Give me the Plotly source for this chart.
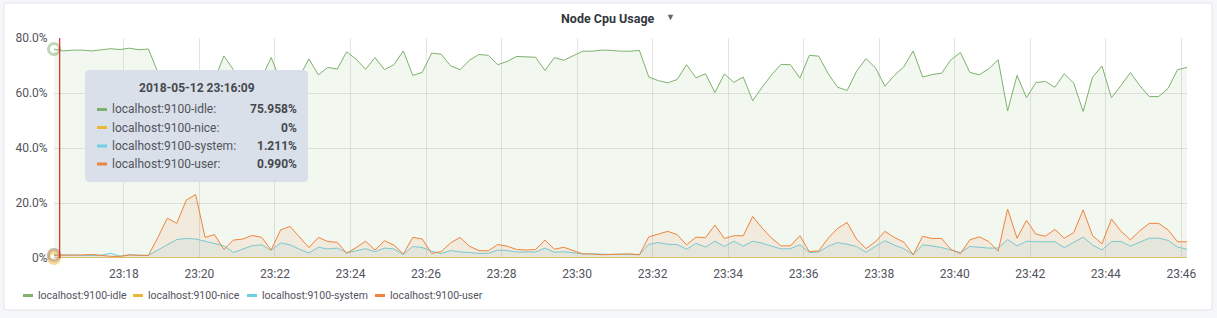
import pandas as pd
import plotly.graph_objects as go

# ---------------- data ----------------
start_time = "2018-05-12 23:16:09"
step_seconds = 15

series_names = ["localhost:9100-idle", "localhost:9100-nice",
                "localhost:9100-system", "localhost:9100-user"]
series_colors = ["#7EB26D", "#EAB839", "#6ED0E0", "#EF843C"]

idle = [75.958, 75.3, 75.6, 75.6, 75.3, 75.7, 76.1, 75.8, 76.3, 75.7,
        76.0, 67.5, 62.0, 60.0, 55.0, 53.0, 62.0, 65.0, 73.4, 68.5,
        64.0, 62.0, 65.6, 72.9, 64.3, 62.0, 66.0, 72.4, 66.6, 69.3,
        68.7, 75.0, 72.3, 68.6, 72.9, 68.5, 70.3, 75.3, 66.4, 67.5,
        74.5, 74.1, 69.9, 68.5, 71.9, 74.0, 73.7, 70.3, 71.5, 73.3,
        73.1, 73.0, 68.2, 72.9, 71.9, 73.7, 75.2, 75.2, 75.6, 75.5,
        75.2, 75.2, 75.5, 65.8, 64.5, 63.7, 64.9, 70.3, 65.5, 67.0,
        60.2, 66.9, 63.9, 65.8, 57.2, 62.1, 66.6, 70.4, 70.3, 65.4,
        73.7, 73.4, 67.0, 62.1, 60.9, 67.9, 72.5, 69.2, 62.5, 66.4,
        69.5, 75.3, 65.8, 66.7, 67.2, 72.1, 74.7, 67.5, 66.6, 68.8,
        72.1, 53.5, 66.4, 58.3, 63.8, 64.2, 62.1, 67.0, 63.6, 53.3,
        65.8, 69.8, 58.3, 62.7, 67.4, 62.7, 58.7, 58.7, 61.7, 68.5,
        69.3]

nice = [0.0] * 121

system = [1.211, 1.1, 1.1, 1.0, 0.9, 1.0, 1.7, 0.7, 1.2, 1.0,
          1.0, 2.9, 4.9, 6.7, 7.1, 6.9, 6.1, 5.3, 4.4, 2.0,
          3.2, 4.5, 4.8, 2.8, 5.5, 4.8, 3.2, 1.8, 3.9, 3.3,
          3.6, 2.0, 2.6, 3.4, 2.3, 3.6, 3.3, 1.3, 4.2, 3.8,
          2.5, 1.6, 2.7, 2.2, 2.0, 1.7, 1.7, 2.9, 2.7, 2.2,
          2.2, 2.2, 3.6, 2.1, 2.3, 1.8, 1.5, 1.5, 1.3, 1.3,
          1.4, 1.3, 1.2, 5.0, 5.6, 5.0, 4.9, 3.2, 5.3, 4.0,
          6.1, 4.2, 6.1, 4.3, 6.1, 5.4, 4.4, 3.3, 3.4, 4.8,
          2.0, 2.2, 4.3, 5.6, 5.0, 4.2, 2.1, 4.2, 6.3, 4.7,
          3.4, 1.2, 4.8, 4.4, 3.8, 2.9, 2.0, 4.2, 3.9, 3.6,
          3.6, 6.7, 4.4, 6.1, 5.9, 6.0, 5.9, 3.8, 5.6, 7.6,
          4.7, 2.9, 6.0, 6.0, 4.3, 5.9, 7.2, 7.2, 6.4, 4.0,
          3.2]

user = [0.990, 1.0, 1.0, 1.1, 1.3, 0.9, 0.6, 0.6, 1.1, 1.0,
        0.9, 7.5, 14.5, 12.6, 21.0, 23.1, 7.5, 8.5, 3.1, 6.5,
        6.9, 8.2, 7.5, 2.9, 10.2, 11.5, 7.6, 3.8, 7.5, 6.0,
        5.7, 1.7, 3.8, 6.1, 2.9, 6.3, 4.7, 1.5, 7.5, 6.9,
        1.7, 2.3, 5.5, 7.5, 4.3, 2.7, 2.6, 4.9, 4.3, 3.1,
        2.9, 3.1, 6.5, 3.2, 3.9, 2.6, 1.5, 1.5, 1.2, 1.3,
        1.5, 1.5, 1.2, 7.7, 8.7, 9.7, 8.5, 4.8, 7.6, 7.4,
        12.0, 7.1, 8.1, 8.1, 15.1, 10.9, 7.2, 4.4, 4.4, 8.1,
        2.3, 2.6, 7.2, 10.8, 12.9, 6.9, 3.4, 5.9, 9.7, 7.5,
        5.8, 1.2, 7.9, 7.1, 7.1, 3.1, 1.6, 6.6, 7.7, 6.0,
        2.5, 17.8, 7.2, 13.7, 8.7, 7.9, 10.4, 7.2, 9.2, 17.5,
        8.1, 5.2, 14.2, 9.8, 6.6, 9.9, 12.6, 12.6, 10.2, 5.9,
        5.9]

y_tick_vals = [0, 20, 40, 60, 80]
y_tick_text = ["0%", "20.0%", "40.0%", "60.0%", "80.0%"]

title_text = "Node Cpu Usage"
tooltip_time = "2018-05-12 23:16:09"
cursor_time = "2018-05-12 23:16:18"
hover_index = 0

# ---------------- geometry helpers ----------------
W, H = 1217, 318
PL, PR, PT, PB = 54, 1187, 38, 258  # plot area in pixels


def px(xp):
    return (xp - PL) / (PR - PL)


def py(yp):
    return (PB - yp) / (PB - PT)


def rounded_rect(x0, y0, x1, y1, r):
    pts = [
        f"M {px(x0 + r)},{py(y0)}",
        f"L {px(x1 - r)},{py(y0)}",
        f"Q {px(x1)},{py(y0)} {px(x1)},{py(y0 + r)}",
        f"L {px(x1)},{py(y1 - r)}",
        f"Q {px(x1)},{py(y1)} {px(x1 - r)},{py(y1)}",
        f"L {px(x0 + r)},{py(y1)}",
        f"Q {px(x0)},{py(y1)} {px(x0)},{py(y1 - r)}",
        f"L {px(x0)},{py(y0 + r)}",
        f"Q {px(x0)},{py(y0)} {px(x0 + r)},{py(y0)}",
        "Z",
    ]
    return " ".join(pts)


def rgba(hex_color, a):
    h = hex_color.lstrip("#")
    r, g, b = int(h[0:2], 16), int(h[2:4], 16), int(h[4:6], 16)
    return f"rgba({r},{g},{b},{a})"


times = pd.date_range(start=start_time, periods=len(idle), freq=f"{step_seconds}s")
all_series = [idle, nice, system, user]

FONT = "Roboto, Helvetica Neue, Arial, sans-serif"

fig = go.Figure()

for name, color, vals in zip(series_names, series_colors, all_series):
    is_nice = name.endswith("nice")
    fig.add_trace(go.Scatter(
        x=times, y=vals, name=name, mode="lines",
        line=dict(color=rgba(color, 0.75) if is_nice else color,
                  width=2 if is_nice else 1),
        fill="tozeroy", fillcolor=rgba(color, 0.1),
        showlegend=False, hoverinfo="skip",
    ))

# hover rings on the hovered point
for name, color, vals in zip(series_names, series_colors, all_series):
    fig.add_trace(go.Scatter(
        x=[times[hover_index]], y=[vals[hover_index]], mode="markers",
        marker=dict(symbol="circle-open", size=11, color=rgba(color, 0.5),
                    line=dict(width=3, color=rgba(color, 0.5))),
        showlegend=False, hoverinfo="skip", cliponaxis=False,
    ))

shapes = []
# panel background
shapes.append(dict(type="path", xref="paper", yref="paper",
                   path=rounded_rect(4, 3, 1212, 310, 3),
                   fillcolor="#ffffff", line=dict(color="#e3e5e8", width=1),
                   layer="below"))
# cursor line
shapes.append(dict(type="line", xref="x", yref="paper",
                   x0=cursor_time, x1=cursor_time, y0=0, y1=1,
                   line=dict(color="#e0242a", width=1.2)))
# tooltip box
shapes.append(dict(type="path", xref="paper", yref="paper",
                   path=rounded_rect(85, 70, 308, 182, 5),
                   fillcolor="rgba(216,223,232,0.96)", line=dict(width=0)))

annotations = []
annotations.append(dict(xref="paper", yref="paper", x=px(608), y=py(18),
                        text=f"<b>{title_text}</b>", showarrow=False,
                        font=dict(family=FONT, size=12.5, color="#33373d"),
                        xanchor="center", yanchor="middle"))
annotations.append(dict(xref="paper", yref="paper", x=px(670), y=py(17.5),
                        text="▼", showarrow=False,
                        font=dict(family=FONT, size=9, color="#5e6269"),
                        xanchor="center", yanchor="middle"))

# tooltip content
annotations.append(dict(xref="paper", yref="paper", x=px(196.5), y=py(88),
                        text=f"<b>{tooltip_time}</b>", showarrow=False,
                        font=dict(family=FONT, size=12, color="#45494f"),
                        xanchor="center", yanchor="middle"))
row_y = [109.5, 127.5, 146, 164]
for ry, name, color, vals in zip(row_y, series_names, series_colors, all_series):
    v = vals[hover_index]
    vtxt = "0%" if v == 0 else f"{v:.3f}%"
    shapes.append(dict(type="line", xref="paper", yref="paper",
                       x0=px(97), x1=px(107), y0=py(ry), y1=py(ry),
                       line=dict(color=color, width=3)))
    annotations.append(dict(xref="paper", yref="paper", x=px(110), y=py(ry),
                            text=f"{name}:", showarrow=False,
                            font=dict(family=FONT, size=12, color="#52545c"),
                            xanchor="left", yanchor="middle"))
    annotations.append(dict(xref="paper", yref="paper", x=px(299), y=py(ry),
                            text=f"<b>{vtxt}</b>", showarrow=False,
                            font=dict(family=FONT, size=12, color="#45494f"),
                            xanchor="right", yanchor="middle"))

# legend
legend_x = [23, 133, 247, 375]
for lx, name, color in zip(legend_x, series_names, series_colors):
    shapes.append(dict(type="line", xref="paper", yref="paper",
                       x0=px(lx), x1=px(lx + 10), y0=py(295.5), y1=py(295.5),
                       line=dict(color=color, width=3)))
    annotations.append(dict(xref="paper", yref="paper", x=px(lx + 13), y=py(295),
                            text=name, showarrow=False,
                            font=dict(family=FONT, size=10.5, color="#52545c"),
                            xanchor="left", yanchor="middle"))

fig.update_layout(
    width=W, height=H,
    margin=dict(l=PL, r=W - PR, t=PT, b=H - PB, pad=0),
    paper_bgcolor="#f5f6f9",
    plot_bgcolor="rgba(0,0,0,0)",
    font=dict(family=FONT, size=12, color="#52545c"),
    showlegend=False,
    shapes=shapes,
    annotations=annotations,
    hovermode=False,
)

fig.update_xaxes(
    range=[times[0], times[-1]],
    type="date",
    tickformat="%H:%M",
    tick0="2018-05-12 23:18:00",
    dtick=120000,
    showgrid=True, gridcolor="rgba(0,0,0,0.1)", gridwidth=1,
    zeroline=False, showline=False,
    ticks="outside", ticklen=5, tickcolor="rgba(0,0,0,0)",
    tickfont=dict(family=FONT, size=12, color="#52545c"),
)
fig.update_yaxes(
    range=[0, 80],
    tickvals=y_tick_vals, ticktext=y_tick_text,
    showgrid=True, gridcolor="rgba(0,0,0,0.1)", gridwidth=1,
    zeroline=False, showline=False,
    ticks="outside", ticklen=3, tickcolor="rgba(0,0,0,0)",
    tickfont=dict(family=FONT, size=12, color="#52545c"),
)

fig.write_html("out.html")
